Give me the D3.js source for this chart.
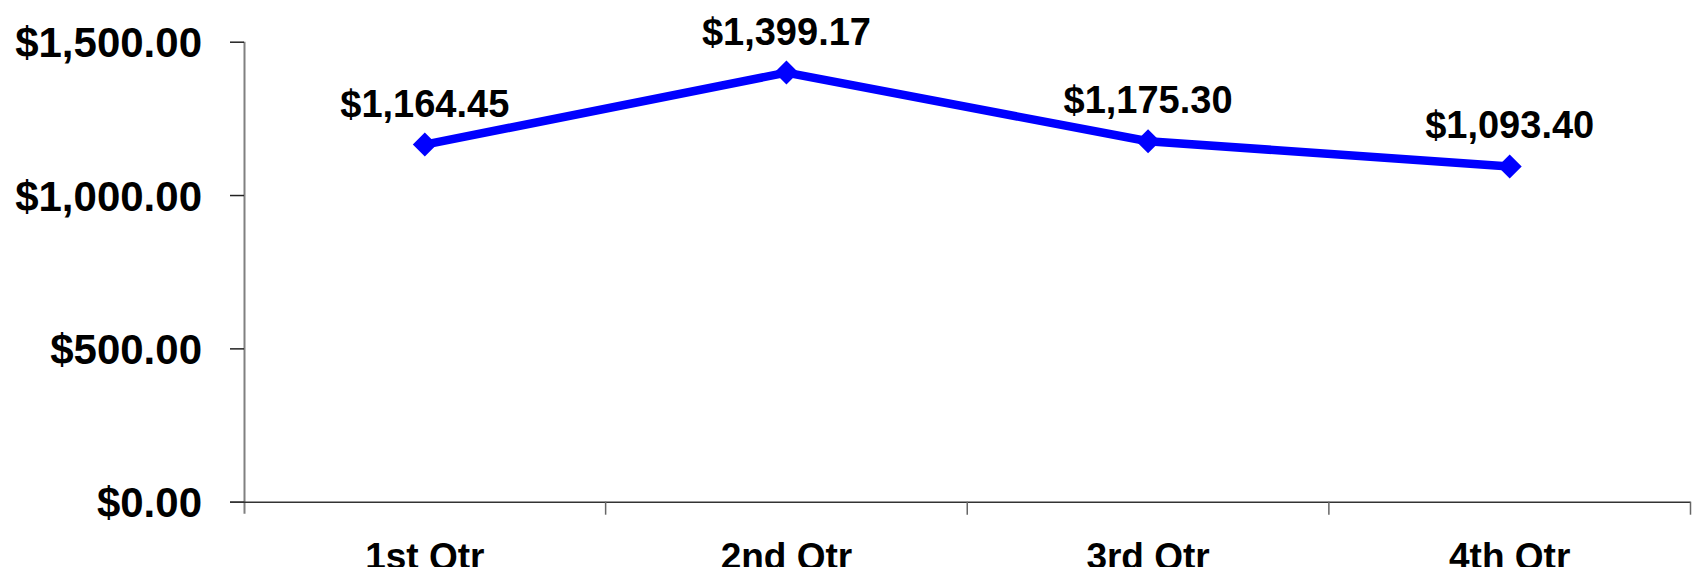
<!DOCTYPE html>
<html>
<head>
<meta charset="utf-8">
<script src="https://cdn.jsdelivr.net/npm/d3@7"></script>
<style>
  html, body { margin: 0; padding: 0; background: #fff; }
  svg { display: block; }
  text { font-family: "Liberation Sans", Arial, sans-serif; font-weight: bold; fill: #000; }
</style>
</head>
<body>
<svg id="chart" width="1692" height="567"></svg>
<script>
const categories = ["1st Qtr", "2nd Qtr", "3rd Qtr", "4th Qtr"];
const values = [1164.45, 1399.17, 1175.30, 1093.40];
const labels = ["$1,164.45", "$1,399.17", "$1,175.30", "$1,093.40"];
const yTicks = [0, 500, 1000, 1500];
const yTickLabels = ["$0.00", "$500.00", "$1,000.00", "$1,500.00"];

const svg = d3.select("#chart");
const mLeft = 244, mRight = 1690.5, mTop = 41.7, mBottom = 501.7;

const x = d3.scaleBand().domain(categories).range([mLeft, mRight]).padding(0);
const y = d3.scaleLinear().domain([0, 1500]).range([mBottom, mTop]);

// Y axis
const yAxis = svg.append("g").attr("transform", `translate(${mLeft},0)`)
  .call(d3.axisLeft(y).tickValues(yTicks).tickSize(14).tickPadding(28)
    .tickFormat((d, i) => yTickLabels[i]));
yAxis.select(".domain").attr("stroke", "#808080").attr("stroke-width", 2)
  .attr("d", `M0.5,${mTop}V${mBottom + 12}`);
yAxis.selectAll(".tick line").attr("stroke", "#222").attr("stroke-width", 1.5);
yAxis.selectAll(".tick text").style("font-size", "42px").attr("fill", "#000")
  .attr("font-family", null).attr("dy", "0.36em");

// X axis
const xAxis = svg.append("g").attr("transform", `translate(0,${mBottom})`)
  .call(d3.axisBottom(x).tickSize(0).tickPadding(41));
xAxis.select(".domain").attr("stroke", "#333").attr("stroke-width", 1.5)
  .attr("d", `M${mLeft - 14},0.5H${mRight}`);
xAxis.selectAll(".tick text").style("font-size", "37px").attr("fill", "#000")
  .attr("font-family", null).attr("dy", "0.71em");
// category boundary ticks
const bounds = categories.map(c => x(c) + x.bandwidth());
xAxis.selectAll(".btick").data(bounds).enter().append("line")
  .attr("class", "btick")
  .attr("x1", d => d).attr("x2", d => d)
  .attr("y1", 0).attr("y2", 13)
  .attr("stroke", "#666").attr("stroke-width", 1.5);

const cx = c => x(c) + x.bandwidth() / 2;

// line
svg.append("path")
  .datum(values)
  .attr("fill", "none")
  .attr("stroke", "#0000FF")
  .attr("stroke-width", 8.5)
  .attr("stroke-linejoin", "round")
  .attr("d", d3.line().x((d, i) => cx(categories[i])).y(d => y(d)));

// markers
svg.selectAll(".mk").data(values).enter().append("path")
  .attr("class", "mk")
  .attr("fill", "#0000FF")
  .attr("d", (d, i) => {
    const px = cx(categories[i]), py = y(d), r = 12;
    return `M${px},${py - r}L${px + r},${py}L${px},${py + r}L${px - r},${py}Z`;
  });

// data labels
svg.selectAll(".lbl").data(values).enter().append("text")
  .attr("class", "lbl")
  .attr("x", (d, i) => cx(categories[i]))
  .attr("y", d => y(d) - 28)
  .attr("text-anchor", "middle")
  .style("font-size", "38px")
  .text((d, i) => labels[i]);
</script>
</body>
</html>
